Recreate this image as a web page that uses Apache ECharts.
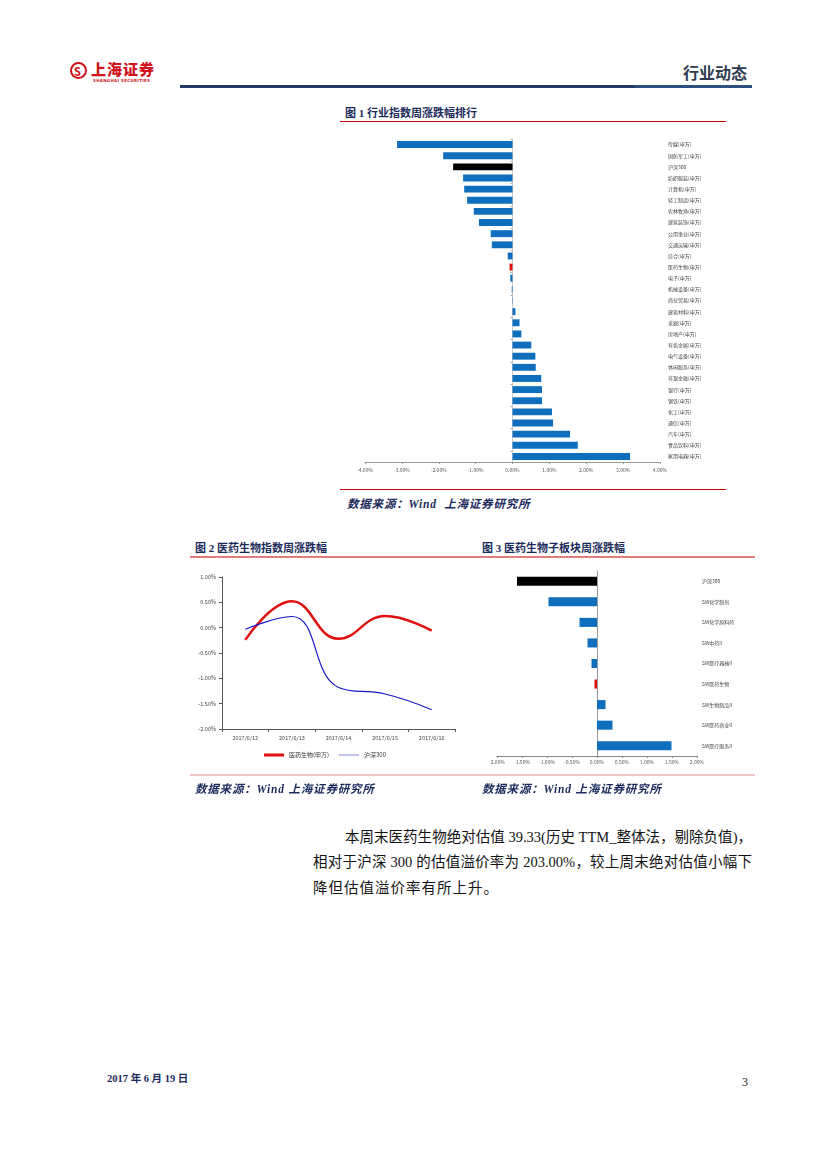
<!DOCTYPE html>
<html><head><meta charset="utf-8">
<script src="https://cdn.jsdelivr.net/npm/echarts@6/dist/echarts.min.js"></script>
<style>
html,body{margin:0;padding:0;background:#fff;}
body{width:827px;height:1169px;position:relative;overflow:hidden;font-family:"Liberation Serif","Noto Sans CJK SC",serif;}
.abs{position:absolute;}
.ftitle{font-family:"Liberation Serif","Noto Sans CJK SC",serif;font-weight:bold;font-size:11px;color:#1b2a5c;white-space:nowrap;}
.src{font-family:"Liberation Serif","Noto Sans CJK SC",serif;font-weight:bold;font-style:italic;font-size:11.5px;letter-spacing:0.8px;color:#1b2a5c;white-space:nowrap;}
.para{font-family:"Liberation Serif","Noto Sans CJK SC",serif;font-size:14.5px;color:#111;white-space:nowrap;}
.just{text-align:justify;text-align-last:justify;}
</style>
</head><body>
<!-- header -->
<div class="abs" style="left:70px;top:62px;width:17px;height:17px;border:2px solid #d0121b;border-radius:50%;box-sizing:border-box;"></div>
<div class="abs" style="left:74px;top:63px;font-size:11px;font-weight:bold;color:#d0121b;font-family:'Noto Sans CJK SC';">S</div>
<div class="abs" style="left:91px;top:60px;font-size:15px;font-weight:900;color:#d0121b;font-family:'Noto Sans CJK SC';letter-spacing:1px;line-height:17px;">上海证券</div>
<div class="abs" style="left:93px;top:78px;font-size:4px;font-weight:bold;color:#d0121b;font-family:'DejaVu Sans';letter-spacing:0.3px;">SHANGHAI SECURITIES</div>
<div class="abs" style="left:683px;top:60px;font-size:16px;font-weight:bold;color:#2e3b4e;font-family:'Noto Sans CJK SC';">行业动态</div>
<div class="abs" style="left:180px;top:85px;width:455px;height:3px;background:#1f3864;"></div>
<div class="abs" style="left:635px;top:85px;width:117px;height:3px;background:#2f4f7f;"></div>

<!-- figure 1 -->
<div class="abs ftitle" style="left:345px;top:104px;">图 1 行业指数周涨跌幅排行</div>
<div class="abs" style="left:340px;top:121px;width:386px;height:1px;background:#c00000;"></div>
<div id="c1" class="abs" style="left:340px;top:130px;width:410px;height:350px;"></div>
<div class="abs" style="left:340px;top:489px;width:386px;height:1px;background:#c00000;"></div>
<div class="abs src" style="left:347px;top:495px;">数据来源：Wind&nbsp;&nbsp;上海证券研究所</div>

<!-- figures 2 & 3 -->
<div class="abs ftitle" style="left:195px;top:539px;">图 2 医药生物指数周涨跌幅</div>
<div class="abs ftitle" style="left:482px;top:539px;">图 3 医药生物子板块周涨跌幅</div>
<div class="abs" style="left:190px;top:556px;width:565px;height:2px;background:#e27d7d;"></div>
<div id="c2" class="abs" style="left:190px;top:565px;width:270px;height:200px;"></div>
<div id="c3" class="abs" style="left:480px;top:560px;width:275px;height:215px;"></div>
<div class="abs" style="left:190px;top:774px;width:565px;height:2px;background:#f2c4c4;"></div>
<div class="abs src" style="left:195px;top:780px;">数据来源：Wind 上海证券研究所</div>
<div class="abs src" style="left:482px;top:780px;">数据来源：Wind 上海证券研究所</div>

<!-- paragraph -->
<div class="abs para just" style="left:345px;top:825px;width:407px;">本周末医药生物绝对估值 39.33(历史 TTM_整体法，剔除负值)，</div>
<div class="abs para just" style="left:313px;top:850px;width:439px;">相对于沪深 300 的估值溢价率为 203.00%，较上周末绝对估值小幅下</div>
<div class="abs para" style="left:313px;top:876px;letter-spacing:1px;">降但估值溢价率有所上升。</div>

<!-- footer -->
<div class="abs" style="left:107px;top:1070px;font-size:10.5px;font-weight:bold;color:#1b2a5c;font-family:'Liberation Serif','Noto Sans CJK SC';">2017 年 6 月 19 日</div>
<div class="abs" style="left:742px;top:1075px;font-size:12px;color:#222;font-family:'Liberation Serif';">3</div>

<script>
// ---------- data ----------
const industries = ["传媒(申万)","国防军工(申万)","沪深300","纺织服装(申万)","计算机(申万)","轻工制造(申万)","农林牧渔(申万)","建筑装饰(申万)","公用事业(申万)","交通运输(申万)","综合(申万)","医药生物(申万)","电子(申万)","机械设备(申万)","商业贸易(申万)","建筑材料(申万)","采掘(申万)","房地产(申万)","有色金属(申万)","电气设备(申万)","休闲服务(申万)","非银金融(申万)","银行(申万)","钢铁(申万)","化工(申万)","通信(申万)","汽车(申万)","食品饮料(申万)","家用电器(申万)"];
const industryChange = [-3.13,-1.88,-1.61,-1.34,-1.31,-1.23,-1.05,-0.91,-0.59,-0.56,-0.13,-0.08,-0.06,-0.02,-0.01,0.08,0.19,0.24,0.51,0.62,0.63,0.78,0.80,0.80,1.07,1.10,1.56,1.77,3.19];
const dates = ["2017/6/12","2017/6/13","2017/6/14","2017/6/15","2017/6/16"];
const pharmaDaily = [-0.24,0.52,-0.22,0.23,-0.06];
const hs300Daily = [-0.03,0.22,-1.18,-1.31,-1.62];
const subSectors = ["沪深300","SW化学制剂","SW化学原料药","SW中药II","SW医疗器械II","SW医药生物","SW生物制品II","SW医药商业II","SW医疗服务II"];
const subChange = [-1.60,-0.97,-0.35,-0.19,-0.11,-0.05,0.17,0.31,1.49];

const BLUE = '#0f6fbc', BLACK = '#000000', RED = '#e01010';
const FONT = 'Noto Sans CJK SC';
function colorFor(name){
  if (name === '沪深300') return BLACK;
  if (name === '医药生物(申万)' || name === 'SW医药生物') return RED;
  return BLUE;
}
const pct = v => v.toFixed(2) + '%';

// ---------- chart 1 ----------
const c1 = echarts.init(document.getElementById('c1'), null, {renderer:'canvas'});
c1.setOption({
  animation:false,
  grid:{left:25, top:9, width:295, height:323},
  xAxis:{type:'value', min:-4, max:4, interval:1,
    axisLine:{show:true, lineStyle:{color:'#999'}},
    axisTick:{show:true, length:2, lineStyle:{color:'#999'}},
    splitLine:{show:false},
    axisLabel:{formatter:pct, fontSize:5, color:'#555', margin:6, fontFamily:FONT}},
  yAxis:[
    {type:'category', data:industries, inverse:true,
      axisLine:{show:true, onZero:true, lineStyle:{color:'#ccc'}},
      axisTick:{show:true, length:2, lineStyle:{color:'#aaa'}},
      axisLabel:{show:false}},
    {type:'category', data:industries, inverse:true, position:'right',
      axisLine:{show:false}, axisTick:{show:false},
      axisLabel:{show:true, fontSize:5, color:'#444', margin:8, align:'left', fontFamily:FONT}}
  ],
  series:[{type:'bar', yAxisIndex:0, barWidth:'62%',
    data: industryChange.map((v,i)=>({value:v, itemStyle:{color:colorFor(industries[i])}}))}]
});

// ---------- chart 2 ----------
const c2 = echarts.init(document.getElementById('c2'), null, {renderer:'canvas'});
c2.setOption({
  animation:false,
  grid:{left:32, top:12, width:233, height:152},
  legend:{top:182, left:'center', itemWidth:20, itemHeight:6, itemGap:10,
    textStyle:{fontSize:6, color:'#333', fontFamily:FONT},
    data:[
      {name:'医药生物(申万)', icon:'path://M0,0L0.01,0M0,3L40,3L40,9L0,9ZM0,12L0.01,12'},
      {name:'沪深300', icon:'path://M0,0L0.01,0M0,5.4L40,5.4L40,6.6L0,6.6ZM0,12L0.01,12'}
    ]},
  xAxis:{type:'category', data:dates, boundaryGap:true,
    axisLine:{show:true, onZero:false, lineStyle:{color:'#555'}},
    axisTick:{show:true, length:3, lineStyle:{color:'#555'}},
    axisLabel:{fontSize:5.5, color:'#444', margin:6, fontFamily:FONT}},
  yAxis:{type:'value', min:-2, max:1, interval:0.5,
    axisLine:{show:true, lineStyle:{color:'#555'}},
    axisTick:{show:true, length:3, lineStyle:{color:'#555'}},
    splitLine:{show:false},
    axisLabel:{formatter:pct, fontSize:5.5, color:'#444', margin:6, fontFamily:FONT}},
  series:[
    {name:'医药生物(申万)', type:'line', data:pharmaDaily, smooth:0.45, symbol:'none',
      lineStyle:{color:'#e01010', width:2.5}, itemStyle:{color:'#e01010'}},
    {name:'沪深300', type:'line', data:hs300Daily, smooth:0.45, symbol:'none',
      lineStyle:{color:'#1414c8', width:1.2}, itemStyle:{color:'#1414c8'}}
  ]
});

// ---------- chart 3 ----------
const c3 = echarts.init(document.getElementById('c3'), null, {renderer:'canvas'});
c3.setOption({
  animation:false,
  grid:{left:17, top:11, width:200, height:185},
  xAxis:{type:'value', min:-2, max:2, interval:0.5,
    axisLine:{show:true, lineStyle:{color:'#888'}},
    axisTick:{show:true, length:2, lineStyle:{color:'#888'}},
    splitLine:{show:false},
    axisLabel:{formatter:pct, fontSize:5, color:'#555', margin:4, fontFamily:FONT}},
  yAxis:[
    {type:'category', data:subSectors, inverse:true,
      axisLine:{show:true, onZero:true, lineStyle:{color:'#999'}},
      axisTick:{show:false}, axisLabel:{show:false}},
    {type:'category', data:subSectors, inverse:true, position:'right',
      axisLine:{show:false}, axisTick:{show:false},
      axisLabel:{show:true, fontSize:5, color:'#444', margin:5, align:'left', fontFamily:FONT}}
  ],
  series:[{type:'bar', yAxisIndex:0, barWidth:'44%',
    data: subChange.map((v,i)=>({value:v, itemStyle:{color:colorFor(subSectors[i])}}))}]
});
</script>
</body></html>
